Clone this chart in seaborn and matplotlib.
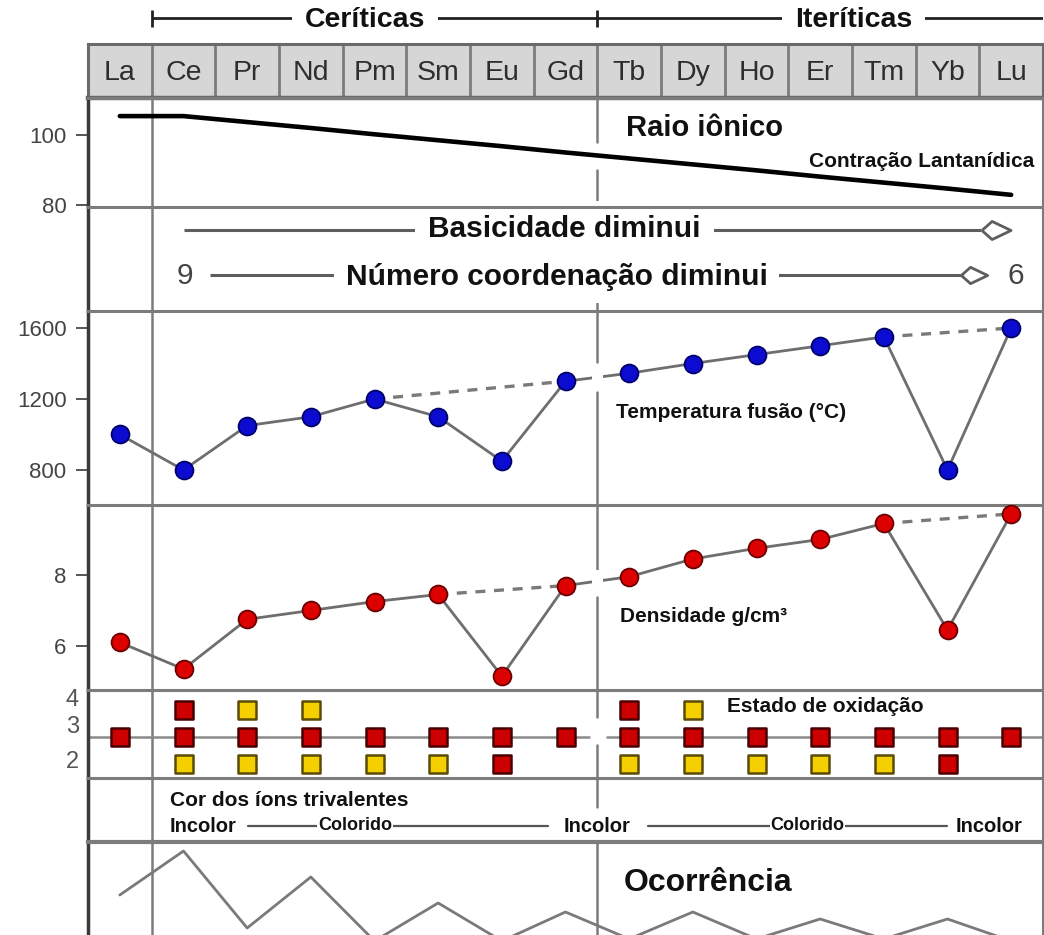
import matplotlib
matplotlib.use("Agg")
import matplotlib.pyplot as plt
from matplotlib.patches import Rectangle
from matplotlib import font_manager
import seaborn as sns
import pandas as pd
import numpy as np

# ---------------- data ----------------
elements = ["La", "Ce", "Pr", "Nd", "Pm", "Sm", "Eu", "Gd",
            "Tb", "Dy", "Ho", "Er", "Tm", "Yb", "Lu"]
ionic_radius = [105.4, 105.4, 103.7, 102.0, 100.2, 98.5, 96.8, 95.0,
                93.3, 91.6, 89.9, 88.1, 86.4, 84.7, 82.9]
melting_point = [1000, 800, 1050, 1100, 1200, 1100, 850, 1300,
                 1345, 1400, 1450, 1500, 1550, 800, 1600]
density = [6.1, 5.35, 6.75, 7.0, 7.25, 7.45, 5.15, 7.7,
           7.95, 8.45, 8.75, 9.0, 9.45, 6.45, 9.72]
occurrence = [40, 84, 7, 58, -6, 32, -6, 23, -4, 23, -4, 16, -4, 16, -6]

ox_elem = ["La",
           "Ce", "Ce", "Ce",
           "Pr", "Pr", "Pr",
           "Nd", "Nd", "Nd",
           "Pm", "Pm",
           "Sm", "Sm",
           "Eu", "Eu",
           "Gd",
           "Tb", "Tb", "Tb",
           "Dy", "Dy", "Dy",
           "Ho", "Ho",
           "Er", "Er",
           "Tm", "Tm",
           "Yb", "Yb",
           "Lu"]
ox_state = [3,
            4, 3, 2,
            4, 3, 2,
            4, 3, 2,
            3, 2,
            3, 2,
            3, 2,
            3,
            4, 3, 2,
            4, 3, 2,
            3, 2,
            3, 2,
            3, 2,
            3, 2,
            3]
ox_kind = ["estável",
           "estável", "estável", "raro",
           "raro", "estável", "raro",
           "raro", "estável", "raro",
           "estável", "raro",
           "estável", "raro",
           "estável", "estável",
           "estável",
           "estável", "estável", "raro",
           "raro", "estável", "raro",
           "estável", "raro",
           "estável", "raro",
           "estável", "raro",
           "estável", "estável",
           "estável"]

raio_ticks = [100, 80]
temp_ticks = [1600, 1200, 800]
dens_ticks = [8, 6]
ox_labels = ["4", "3", "2"]
groups = ["Ceríticas", "Iteríticas"]
color_row = ["Incolor", "Colorido", "Incolor", "Colorido", "Incolor"]

# ---------------- style ----------------
sns.set_style("white")
plt.rcParams['font.family'] = ['Liberation Sans', 'DejaVu Sans']
names = {f.name for f in font_manager.fontManager.ttflist}
HAS_NARROW = 'Liberation Sans Narrow' in names
NARROW = (['Liberation Sans Narrow', 'Liberation Sans', 'DejaVu Sans']
          if HAS_NARROW else ['Liberation Sans', 'DejaVu Sans'])
BIG = 26 if HAS_NARROW else 21.5

W, H = 1044, 935
fig = plt.figure(figsize=(W / 100, H / 100), dpi=100)
fig.patch.set_facecolor('white')
XL = (-0.5, 14.5)
idx = np.arange(len(elements))
GRID = '#7c7c7c'
TXT = '#111111'
KITE = [(-1, 0), (-0.3, 0.62), (1, 0), (-0.3, -0.62), (-1, 0)]


def panel(y0, y1):
    ax = fig.add_axes([88 / W, 1 - y1 / H, 955 / W, (y1 - y0) / H])
    ax.set_xlim(*XL)
    ax.set_facecolor('none')
    ax.set_xticks([])
    ax.set_yticks([])
    for s in ax.spines.values():
        s.set_visible(False)
    ax.spines['left'].set_visible(True)
    ax.spines['left'].set_color('#3a3a3a')
    ax.spines['left'].set_linewidth(2.5)
    ax.spines['top'].set_visible(True)
    ax.spines['top'].set_color(GRID)
    ax.spines['top'].set_linewidth(2.2)
    ax.spines['right'].set_visible(True)
    ax.spines['right'].set_color(GRID)
    ax.spines['right'].set_linewidth(1.5)
    ax.tick_params(axis='y', left=True, length=8.5, width=1.4, color='#555',
                   pad=7, labelsize=16, labelcolor='#444')
    ax.axvline(0.5, color=GRID, lw=1.8, zorder=1)
    return ax


def center(ax, segs):
    for a, b in segs:
        ax.axvline(7.5, ymin=a, ymax=b, color=GRID, lw=1.8, zorder=1)


# ---------------- bracket (Ceríticas / Iteríticas) ----------------
axb = fig.add_axes([88 / W, 1 - 44 / H, 955 / W, 44 / H])
axb.set_xlim(*XL)
axb.set_ylim(44, 0)
axb.axis('off')
axb.plot([0.5, 14.5], [18, 18], color='#222', lw=2, solid_capstyle='butt')
axb.vlines([0.5, 7.5], 10, 27, color='#222', lw=2)
for gx, g in zip([3.85, 11.53], groups):
    axb.text(gx, 20, g, ha='center', va='center', fontsize=20.5,
             fontweight='bold', color=TXT,
             bbox=dict(boxstyle='square,pad=0.45', fc='white', ec='none'))

# ---------------- header ----------------
axh = fig.add_axes([88 / W, 1 - 98 / H, 955 / W, 54 / H])
axh.set_xlim(*XL)
axh.set_ylim(0, 1)
axh.set_facecolor('#d6d6d6')
axh.set_xticks([])
axh.set_yticks([])
for k in range(len(elements) - 1):
    axh.axvline(k + 0.5, color=GRID, lw=2)
for s in axh.spines.values():
    s.set_color('#6a6a6a')
    s.set_linewidth(2.2)
axh.spines['bottom'].set_linewidth(3.2)
for i, e in enumerate(elements):
    axh.text(i, 0.46, e, ha='center', va='center', fontsize=20.5,
             color='#2e2e2e')

# ---------------- Raio iônico ----------------
ax1 = panel(98, 207)
ax1.set_ylim(79.43, 110.57)
sns.lineplot(x=idx, y=ionic_radius, ax=ax1, color='black', lw=3.3, zorder=3)
ax1.set_yticks(raio_ticks)
ax1.set_ylabel('')
center(ax1, [(0.596, 1), (0, 0.339)])
t1 = ax1.get_xaxis_transform()
ax1.text(9.18, 0.725, "Raio iônico", transform=t1, ha='center', va='center',
         fontsize=21, fontweight='bold', color=TXT)
ax1.text(14.36, 0.413, "Contração Lantanídica", transform=t1, ha='right',
         va='center', fontsize=15, fontweight='bold', color=TXT)

# ---------------- Basicidade / número de coordenação ----------------
ax2 = panel(207, 311)
ax2.set_ylim(0, 1)
center(ax2, [(0.94, 1), (0, 0.18)])
t2 = ax2.get_xaxis_transform()
ARW = '#5e5e5e'
# arrow 1
ax2.plot([1.0, 13.53], [0.779, 0.779], transform=t2, color=ARW, lw=2.2,
         zorder=2, solid_capstyle='butt')
ax2.plot([13.76], [0.779], transform=t2, marker=KITE, ms=21, mfc='white',
         mec=ARW, mew=2, zorder=2.6, clip_on=False)
# arrow 2
ax2.plot([1.41, 13.21], [0.346, 0.346], transform=t2, color=ARW, lw=2.2,
         zorder=2, solid_capstyle='butt')
ax2.plot([13.42], [0.346], transform=t2, marker=KITE, ms=19, mfc='white',
         mec=ARW, mew=2, zorder=2.6, clip_on=False)
ax2.text(6.98, 0.79, "Basicidade diminui", transform=t2, ha='center',
         va='center', fontsize=BIG, fontweight='bold', color=TXT,
         family=NARROW, zorder=2.4,
         bbox=dict(boxstyle='square,pad=0.45', fc='white', ec='none'))
ax2.text(6.86, 0.33, "Número coordenação diminui", transform=t2,
         ha='center', va='center', fontsize=BIG, fontweight='bold',
         color=TXT, family=NARROW, zorder=2.4,
         bbox=dict(boxstyle='square,pad=0.4', fc='white', ec='none'))
ax2.text(1.02, 0.34, "9", transform=t2, ha='center', va='center',
         fontsize=BIG, color='#444', family=NARROW)
ax2.text(14.08, 0.34, "6", transform=t2, ha='center', va='center',
         fontsize=BIG, color='#444', family=NARROW)

# ---------------- Temperatura de fusão ----------------
LINE = '#6e6e6e'
ax3 = panel(311, 505)
ax3.set_ylim(602.8, 1695.8)
sns.lineplot(x=idx, y=melting_point, ax=ax3, color=LINE, lw=2.0, zorder=2)
for a, b in [(4, 7), (12, 14)]:
    sns.lineplot(x=[idx[a], idx[b]], y=[melting_point[a], melting_point[b]],
                 ax=ax3, color='#7a7a7a', lw=2.4, linestyle=(0, (3, 2.6)),
                 zorder=2)
span3 = 1695.8 - 602.8
yc = (melting_point[7] + melting_point[8]) / 2
ax3.add_patch(Rectangle((7.41, yc - span3 * 11 / 194), 0.18, span3 * 22 / 194,
                        fc='white', ec='none', zorder=3))
sns.scatterplot(x=idx, y=melting_point, ax=ax3, s=165, color='#0c0cd0',
                edgecolor='#00006a', linewidth=1.3, zorder=5, legend=False)
ax3.set_yticks(temp_ticks)
ax3.set_ylabel('')
center(ax3, [(0.737, 1), (0, 0.582)])
ax3.text(7.80, 0.479, "Temperatura fusão (°C)",
         transform=ax3.get_xaxis_transform(), ha='left', va='center',
         fontsize=15, fontweight='bold', color=TXT)

# ---------------- Densidade ----------------
ax4 = panel(505, 690)
ax4.set_ylim(4.76, 9.97)
sns.lineplot(x=idx, y=density, ax=ax4, color=LINE, lw=2.0, zorder=2)
for a, b in [(5, 7), (12, 14)]:
    sns.lineplot(x=[idx[a], idx[b]], y=[density[a], density[b]],
                 ax=ax4, color='#7a7a7a', lw=2.4, linestyle=(0, (3, 2.6)),
                 zorder=2)
span4 = 9.97 - 4.76
yc = (density[7] + density[8]) / 2
ax4.add_patch(Rectangle((7.41, yc - span4 * 11 / 185), 0.18, span4 * 22 / 185,
                        fc='white', ec='none', zorder=3))
sns.scatterplot(x=idx, y=density, ax=ax4, s=165, color='#dd0000',
                edgecolor='#6a0000', linewidth=1.3, zorder=5, legend=False)
ax4.set_yticks(dens_ticks)
ax4.set_ylabel('')
center(ax4, [(0.632, 1), (0, 0.503)])
ax4.text(7.85, 0.395, "Densidade g/cm³",
         transform=ax4.get_xaxis_transform(), ha='left', va='center',
         fontsize=15, fontweight='bold', color=TXT)

# ---------------- Estado de oxidação ----------------
ax5 = panel(690, 778)
ax5.set_ylim(1.48, 4.74)
ax5.hlines(3, -0.5, 7.38, color='#8a8a8a', lw=1.8, zorder=1)
ax5.hlines(3, 7.64, 14.5, color='#8a8a8a', lw=1.8, zorder=1)
center(ax5, [(0.693, 1), (0, 0.375)])
ox = pd.DataFrame({"elem": ox_elem, "state": ox_state, "kind": ox_kind})
ox["x"] = ox["elem"].map({e: i for i, e in enumerate(elements)})
for kind, fc, ec in [("estável", '#cc0000', '#4a0000'),
                     ("raro", '#f5d000', '#5a4c08')]:
    sub = ox[ox["kind"] == kind]
    sns.scatterplot(data=sub, x="x", y="state", ax=ax5, marker='s', s=185,
                    color=fc, edgecolor=ec, linewidth=1.8, zorder=4,
                    legend=False)
ax5.set_xlabel('')
ax5.set_ylabel('')
ax5.set_xlim(*XL)
for lab, yy in zip(ox_labels, [4.37, 3.37, 2.07]):
    ax5.text(-0.64, yy, lab, ha='right', va='center', fontsize=17,
             color='#555', clip_on=False)
ax5.text(9.54, 0.818, "Estado de oxidação",
         transform=ax5.get_xaxis_transform(), ha='left', va='center',
         fontsize=15, fontweight='bold', color=TXT)

# ---------------- Cor dos íons trivalentes ----------------
ax6 = panel(778, 842)
ax6.set_ylim(0, 1)
center(ax6, [(0.547, 1)])
t6 = ax6.get_xaxis_transform()
ax6.text(0.787, 0.656, "Cor dos íons trivalentes", transform=t6,
         ha='left', va='center', fontsize=15, fontweight='bold', color=TXT)
ax6.plot([2.01, 6.72], [0.25, 0.25], transform=t6, color='#555', lw=1.6)
ax6.plot([8.29, 12.99], [0.25, 0.25], transform=t6, color='#555', lw=1.6)
xs = [0.787, 3.69, 7.50, 10.80, 13.65]
has = ['left', 'center', 'center', 'center', 'center']
for xx, lab, ha in zip(xs, color_row, has):
    fs = 14.5 if lab == "Incolor" else 13
    ax6.text(xx, 0.25, lab, transform=t6, ha=ha, va='center', fontsize=fs,
             fontweight='bold', color=TXT,
             bbox=dict(boxstyle='square,pad=0.05', fc='white', ec='none'))

# ---------------- Ocorrência ----------------
ax7 = panel(842, 935)
ax7.set_ylim(0, 93)
ax7.spines['top'].set_linewidth(3)
sns.lineplot(x=idx, y=occurrence, ax=ax7, color='#7a7a7a', lw=2.0, zorder=2)
ax7.set_yticks([])
ax7.set_ylabel('')
ax7.tick_params(axis='y', left=False)
center(ax7, [(0, 1)])
ax7.text(7.91, 0.56, "Ocorrência", transform=ax7.get_xaxis_transform(),
         ha='left', va='center', fontsize=23, fontweight='bold', color=TXT)

for ax in [ax1, ax2, ax3, ax4, ax5, ax6, ax7]:
    ax.set_xlim(*XL)
    ax.set_xlabel('')
    ax.set_xticks([])

fig.savefig("out.png", dpi=100)
